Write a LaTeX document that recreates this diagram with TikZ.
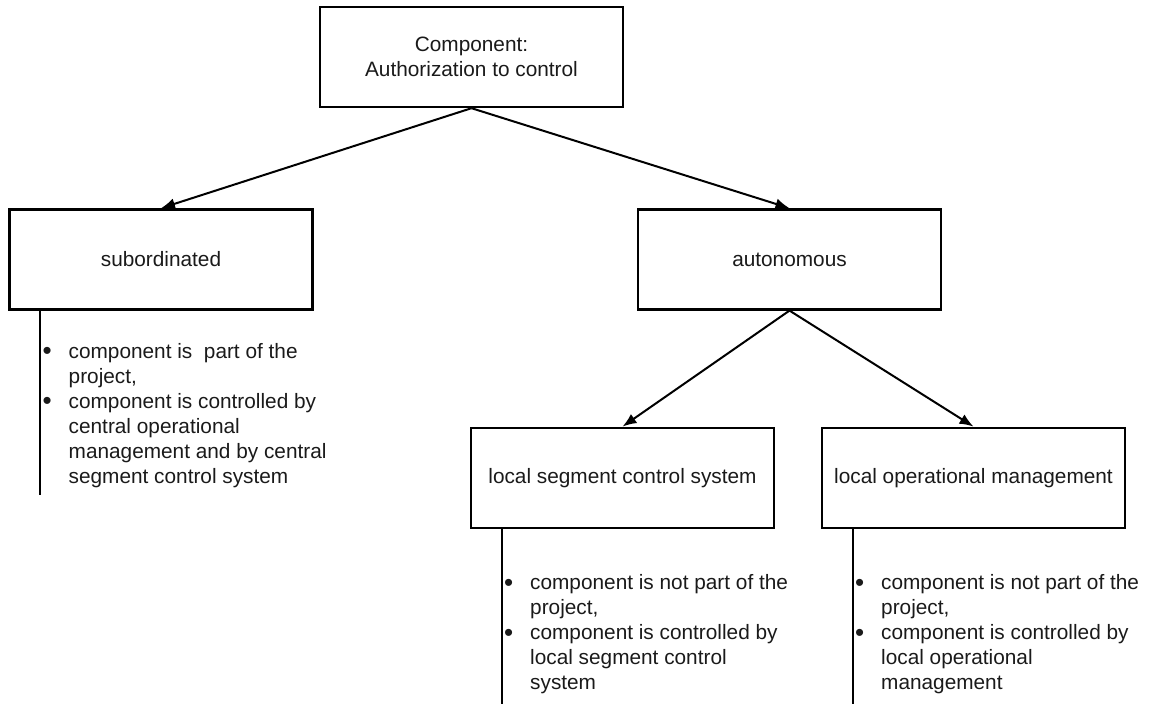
\documentclass[tikz,border=0pt]{standalone}
\usepackage{fontspec}
\setmainfont{Liberation Sans}
\usepackage{xcolor}
\definecolor{CLine}{HTML}{000000}
\definecolor{CText}{HTML}{1A1A1A}
\usepackage{tikz}
\usetikzlibrary{arrows.meta,positioning}
\newcommand{\diagfont}{\fontsize{10.4pt}{12.5pt}\selectfont}
\newcommand{\bitem}{\makebox[13pt][l]{\raisebox{-0.9pt}{\scalebox{1.25}{\textbullet}}}}
\newcommand{\bcont}{\hspace*{13pt}}
\tikzstyle{boxNode}=[rectangle, draw=CLine, line width=1.2pt, fill=white, text=CText,
  minimum width=151.5pt, minimum height=50pt, align=center, inner sep=2pt, font=\diagfont]
\tikzstyle{noteNode}=[anchor=north west, inner sep=0pt, align=left, text=CText, font=\diagfont]
\tikzstyle{arr}=[-{Latex[length=7pt,width=5.5pt]}, line width=1pt, draw=CLine]
\tikzstyle{stemLine}=[line width=1pt, draw=CLine]

\begin{document}
\begin{tikzpicture}[node distance=50pt and 0pt]
\useasboundingbox (-235.75pt,28.5pt) rectangle (339.75pt,-323.5pt);
\node[boxNode] (comp) at (0,0) {Component:\\Authorization to control};
\node[boxNode, below=of comp, xshift=-155.25pt] (sub) {subordinated};
\node[boxNode, below=of comp, xshift=159pt] (auto) {autonomous};
\node[boxNode, below=58pt of auto, xshift=-83.5pt] (lseg) {local segment control system};
\node[boxNode, below=58pt of auto, xshift=92pt] (lop) {local operational management};
\draw[arr] (comp.south) -- (sub.north);
\draw[arr] (comp.south) -- (auto.north);
\draw[arr] (auto.south) -- (lseg.north);
\draw[arr] (auto.south) -- (lop.north);
% stems under the boxes
\coordinate (subEnd) at ([xshift=16pt,yshift=-92pt]sub.south west);
\coordinate (lsegEnd) at ([xshift=16pt,yshift=-92pt]lseg.south west);
\coordinate (lopEnd) at ([xshift=16pt,yshift=-92pt]lop.south west);
\draw[stemLine] (subEnd |- sub.south) -- (subEnd);
\draw[stemLine] (lsegEnd |- lseg.south) -- (lsegEnd);
\draw[stemLine] (lopEnd |- lop.south) -- (lopEnd);
% bullet notes
\node[noteNode] (subNote) at ([xshift=17pt,yshift=-16pt]sub.south west)
  {\bitem component is~ part of the\\ \bcont project,\\ \bitem component is controlled by\\
   \bcont central operational\\ \bcont management and by central\\ \bcont segment control system};
\node[noteNode] (lsegNote) at ([xshift=17pt,yshift=-22.4pt]lseg.south west)
  {\bitem component is not part of the\\ \bcont project,\\ \bitem component is controlled by\\
   \bcont local segment control\\ \bcont system};
\node[noteNode] (lopNote) at ([xshift=17pt,yshift=-22.4pt]lop.south west)
  {\bitem component is not part of the\\ \bcont project,\\ \bitem component is controlled by\\
   \bcont local operational\\ \bcont management};
\end{tikzpicture}
\end{document}
